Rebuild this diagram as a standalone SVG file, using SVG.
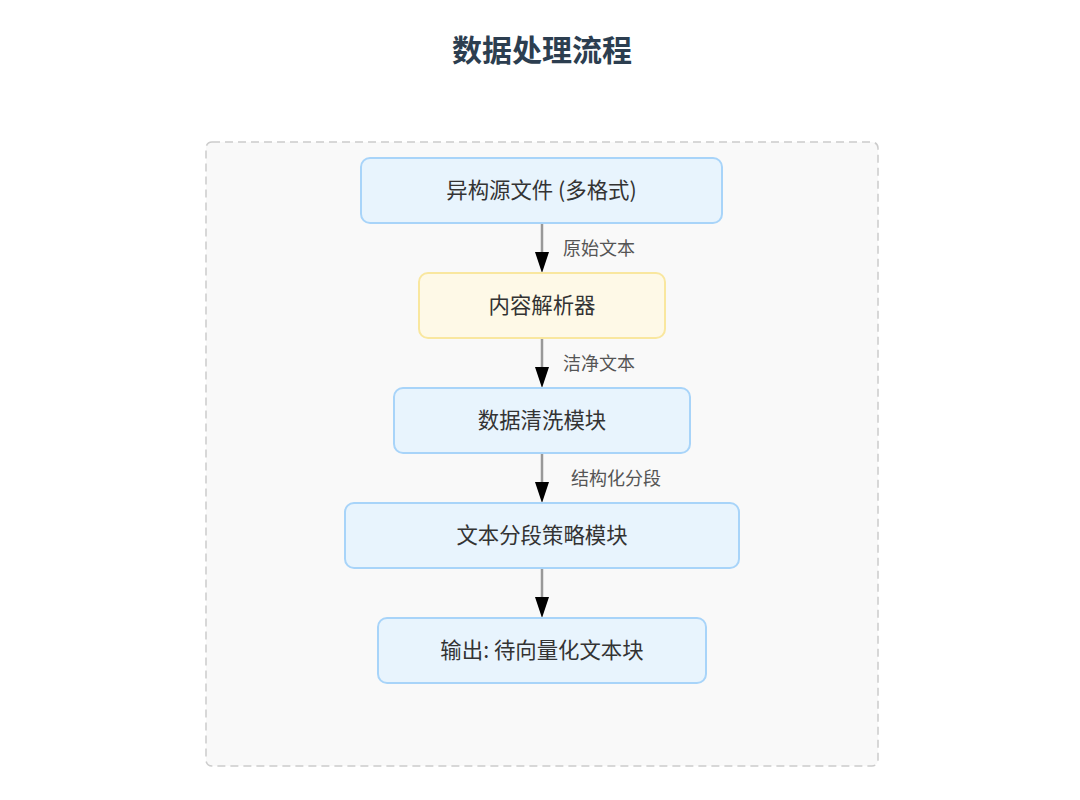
<svg xmlns="http://www.w3.org/2000/svg" width="1080" height="800" viewBox="0 0 1080 800">
<style>
text{font-family:"Noto Sans CJK SC","Noto Sans",sans-serif}
.title{font-size:30px;font-weight:bold;fill:#2c3e50}
.nb{fill:#e8f4fd;stroke:#a8d4f9;stroke-width:2}
.ny{fill:#fef9e7;stroke:#f9e79f;stroke-width:2}
.nt{font-size:21.4px;fill:#333}
.el{font-size:18px;fill:#555}
.edge{stroke:#999;stroke-width:2.5;fill:none}
</style>
<rect width="1080" height="800" fill="#fff"/>
<text class="title" x="542" y="61" text-anchor="middle">数据处理流程</text>
<rect x="206" y="142" width="672" height="624" rx="6" fill="#f9f9f9" stroke="#ccc" stroke-width="1.5" stroke-dasharray="8,5"/>
<g id="connectors">
<line class="edge" x1="542" y1="224" x2="542" y2="252"/>
<path d="M535,252 L549,252 L542,273 Z" fill="#000"/>
<text class="el" x="563" y="255">原始文本</text>
<line class="edge" x1="542" y1="339" x2="542" y2="367"/>
<path d="M535,367 L549,367 L542,388 Z" fill="#000"/>
<text class="el" x="563" y="370">洁净文本</text>
<line class="edge" x1="542" y1="454" x2="542" y2="482"/>
<path d="M535,482 L549,482 L542,503 Z" fill="#000"/>
<text class="el" x="571" y="485">结构化分段</text>
<line class="edge" x1="542" y1="569" x2="542" y2="597"/>
<path d="M535,597 L549,597 L542,618 Z" fill="#000"/>
</g>
<g id="n1"><rect class="nb" x="361" y="158" width="361" height="65" rx="9"/><text class="nt" x="541.5" y="198" text-anchor="middle">异构源文件 (多格式)</text></g>
<g id="n2"><rect class="ny" x="419" y="273" width="246" height="65" rx="9"/><text class="nt" x="542" y="313" text-anchor="middle">内容解析器</text></g>
<g id="n3"><rect class="nb" x="394" y="388" width="296" height="65" rx="9"/><text class="nt" x="542" y="428" text-anchor="middle">数据清洗模块</text></g>
<g id="n4"><rect class="nb" x="345" y="503" width="394" height="65" rx="9"/><text class="nt" x="542" y="543" text-anchor="middle">文本分段策略模块</text></g>
<g id="n5"><rect class="nb" x="378" y="618" width="328" height="65" rx="9"/><text class="nt" x="542" y="658" text-anchor="middle">输出: 待向量化文本块</text></g>
</svg>
